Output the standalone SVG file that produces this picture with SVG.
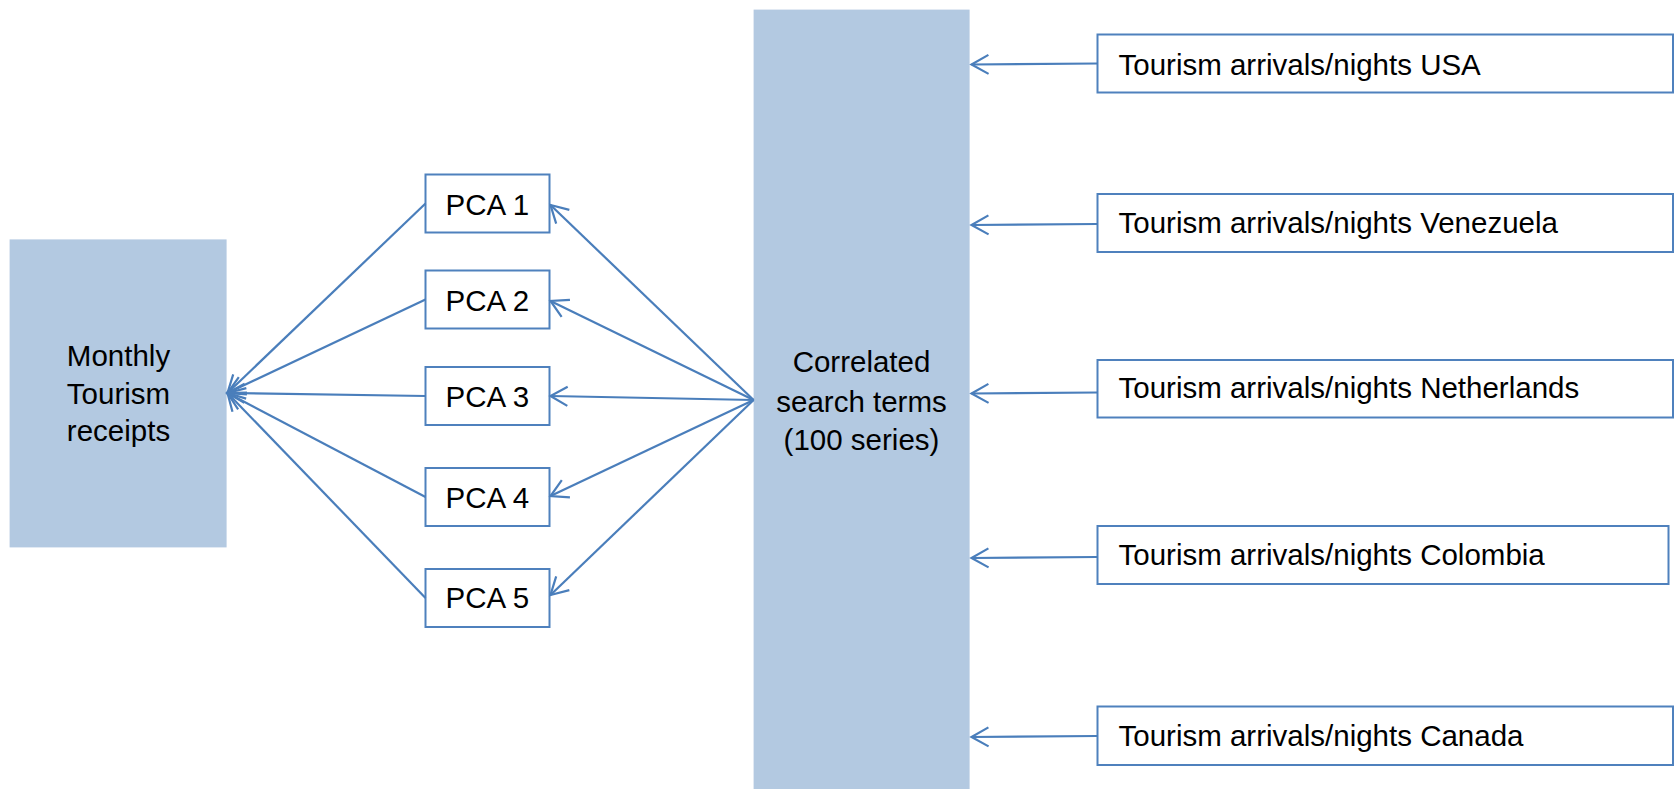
<svg xmlns="http://www.w3.org/2000/svg" width="1676" height="789" viewBox="0 0 1676 789">
<style>
.big{fill:#B3C9E1;stroke:none}
.box{fill:#FFFFFF;stroke:#4F81BD;stroke-width:2}
.t{font-family:"Liberation Sans",Arial,sans-serif;font-size:29.5px;fill:#000}
.c{text-anchor:middle}
.ln{stroke:#4A7EBB;stroke-width:2.2;fill:none;marker-end:url(#ah)}
</style>
<defs>
<marker id="ah" viewBox="-20 -12 22 24" refX="0" refY="0" markerWidth="22" markerHeight="24" markerUnits="userSpaceOnUse" orient="auto" overflow="visible">
<path d="M-17,-9.5 L0,0 L-17,9.5" fill="none" stroke="#4A7EBB" stroke-width="2.2"/>
</marker>
</defs>
<rect width="1676" height="789" fill="#FFFFFF"/>
<g id="monthly">
<rect class="big" x="9.6" y="239.4" width="217" height="308"/>
<text class="t c" x="118.5" y="366">Monthly</text>
<text class="t c" x="118.5" y="403.5">Tourism</text>
<text class="t c" x="118.5" y="440.5">receipts</text>
</g>
<g id="correlated">
<rect class="big" x="753.6" y="9.6" width="216" height="780"/>
<text class="t c" x="861.5" y="372">Correlated</text>
<text class="t c" x="861.5" y="411.5">search terms</text>
<text class="t c" x="861.5" y="450">(100 series)</text>
</g>
<g id="pca1"><rect class="box" x="425.5" y="174.5" width="124" height="58"/><text class="t" x="445.5" y="215">PCA 1</text></g>
<g id="pca2"><rect class="box" x="425.5" y="270.5" width="124" height="58"/><text class="t" x="445.5" y="310.5">PCA 2</text></g>
<g id="pca3"><rect class="box" x="425.5" y="367" width="124" height="58"/><text class="t" x="445.5" y="406.5">PCA 3</text></g>
<g id="pca4"><rect class="box" x="425.5" y="468" width="124" height="58"/><text class="t" x="445.5" y="507.5">PCA 4</text></g>
<g id="pca5"><rect class="box" x="425.5" y="569" width="124" height="58"/><text class="t" x="445.5" y="608">PCA 5</text></g>
<g id="usa"><rect class="box" x="1097.5" y="34.5" width="575.5" height="58"/><text class="t" x="1118.5" y="75">Tourism arrivals/nights USA</text></g>
<g id="venezuela"><rect class="box" x="1097.5" y="194" width="575.5" height="58"/><text class="t" x="1118.5" y="232.5">Tourism arrivals/nights Venezuela</text></g>
<g id="netherlands"><rect class="box" x="1097.5" y="360" width="575.5" height="57.5"/><text class="t" x="1118.5" y="398">Tourism arrivals/nights Netherlands</text></g>
<g id="colombia"><rect class="box" x="1097.5" y="526" width="571" height="58"/><text class="t" x="1118.5" y="565">Tourism arrivals/nights Colombia</text></g>
<g id="canada"><rect class="box" x="1097.5" y="706.5" width="575.5" height="58.5"/><text class="t" x="1118.5" y="746">Tourism arrivals/nights Canada</text></g>
<g id="connectors">
<line class="ln" x1="425.5" y1="203.5" x2="227.5" y2="393"/>
<line class="ln" x1="425.5" y1="299.5" x2="227.5" y2="393"/>
<line class="ln" x1="425.5" y1="396" x2="227.5" y2="393"/>
<line class="ln" x1="425.5" y1="497" x2="227.5" y2="393"/>
<line class="ln" x1="425.5" y1="598" x2="227.5" y2="393"/>
<line class="ln" x1="753.6" y1="400" x2="550.5" y2="205"/>
<line class="ln" x1="753.6" y1="400" x2="550.5" y2="301"/>
<line class="ln" x1="753.6" y1="400" x2="550.5" y2="396"/>
<line class="ln" x1="753.6" y1="400" x2="550.5" y2="496"/>
<line class="ln" x1="753.6" y1="400" x2="550.5" y2="595"/>
<line class="ln" x1="1097.5" y1="63.5" x2="971.5" y2="64.5"/>
<line class="ln" x1="1097.5" y1="224" x2="971.5" y2="225"/>
<line class="ln" x1="1097.5" y1="392.5" x2="971.5" y2="393.5"/>
<line class="ln" x1="1097.5" y1="557" x2="971.5" y2="558"/>
<line class="ln" x1="1097.5" y1="736" x2="971.5" y2="737"/>
</g>
</svg>
